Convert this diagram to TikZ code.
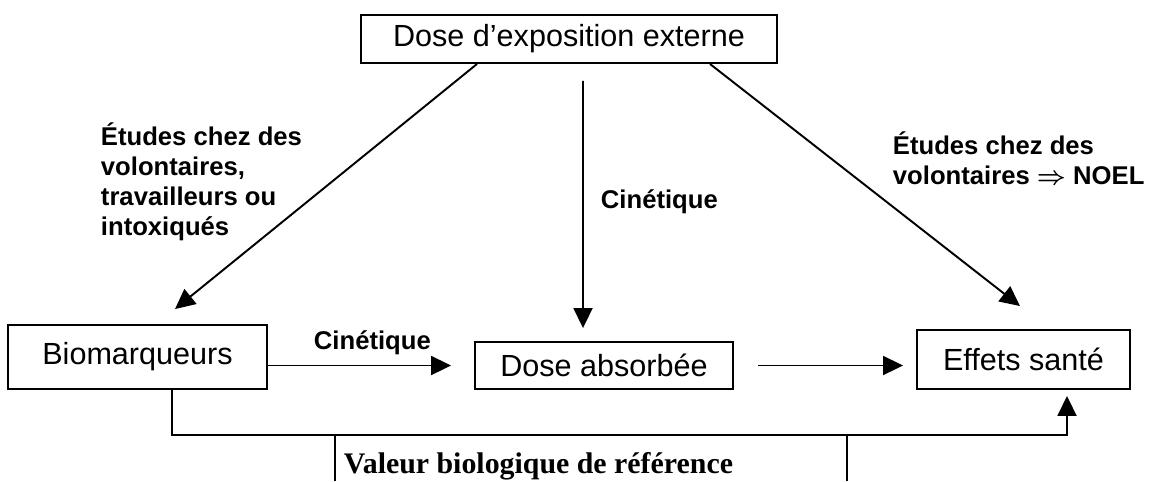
\documentclass[tikz,border=0pt]{standalone}
\usepackage{bm}
\usepackage{fontspec}
\setmainfont{Liberation Sans}
\newfontfamily\timesfont{Liberation Serif}
\usetikzlibrary{arrows.meta}

\begin{document}
\begin{tikzpicture}[x=0.02cm,y=-0.02cm,line width=1.1pt,
    box/.style={draw,inner sep=0pt,font=\fontsize{17.4}{20}\selectfont},
    lbl/.style={inner sep=0pt,align=left,font=\bfseries\fontsize{14.6}{17.1}\selectfont},
    fleche/.style={-{Triangle[length=0.4cm,width=0.38cm]}}]
    \useasboundingbox (0,0) rectangle (1149,481);
    % cadres
    \node[box,minimum width=8.32cm,minimum height=0.96cm] (expo) at (569,39) {Dose d’exposition externe};
    \node[box,minimum width=5.18cm,minimum height=1.28cm] (bio) at (137.5,357) {Biomarqueurs};
    \node[box,minimum width=5.16cm,minimum height=0.94cm] (abs) at (604,365.5) {Dose absorbée};
    \node[box,minimum width=4.26cm,minimum height=1.18cm] (eff) at (1023.5,359.5) {Effets santé};
    % etiquettes
    \node[lbl,anchor=north west] (etvol) at (100,122) {Études chez des\\volontaires,\\travailleurs ou\\intoxiqués};
    \node[lbl,anchor=north west] (etnoel) at (892,131) {Études chez des\\volontaires $\bm{\Rightarrow}$ NOEL};
    \node[lbl,anchor=base west] (cinv) at (600,208) {Cinétique};
    \node[lbl,anchor=base west] (cinh) at (313,349) {Cinétique};
    \node[anchor=base west,inner sep=0pt,font={\timesfont\bfseries\fontsize{17}{20}\selectfont}] (vbr) at (343,473) {Valeur biologique de référence};
    % fleches
    \draw[fleche] ([xshift=-1.84cm]expo.south) -- ([xshift=0.75cm,yshift=0.3cm]bio.north);
    \draw[fleche] ([xshift=0.28cm,yshift=-0.34cm]expo.south) -- ([xshift=-0.42cm,yshift=0.26cm]abs.north);
    \draw[fleche] ([xshift=2.82cm]expo.south) -- ([xshift=-0.07cm,yshift=0.46cm]eff.north);
    \draw[fleche,shorten >=0.46cm] (bio.east |- abs.west) -- (abs.west);
    \draw[fleche,shorten <=0.48cm,shorten >=0.26cm] (abs.east) -- (eff.west |- abs.east);
    % liaison du bas
    \coordinate (busg) at (172,435);
    \coordinate (busd) at (1067,435);
    \draw[fleche,shorten >=0.12cm] (bio.south -| busg) -- (busg) -- (busd) -- (eff.south -| busd);
    \coordinate (vg) at (335,435);
    \coordinate (vgb) at (335,481);
    \coordinate (vd) at (847,435);
    \coordinate (vdb) at (847,481);
    \draw (vg) -- (vgb);
    \draw (vd) -- (vdb);
\end{tikzpicture}
\end{document}
